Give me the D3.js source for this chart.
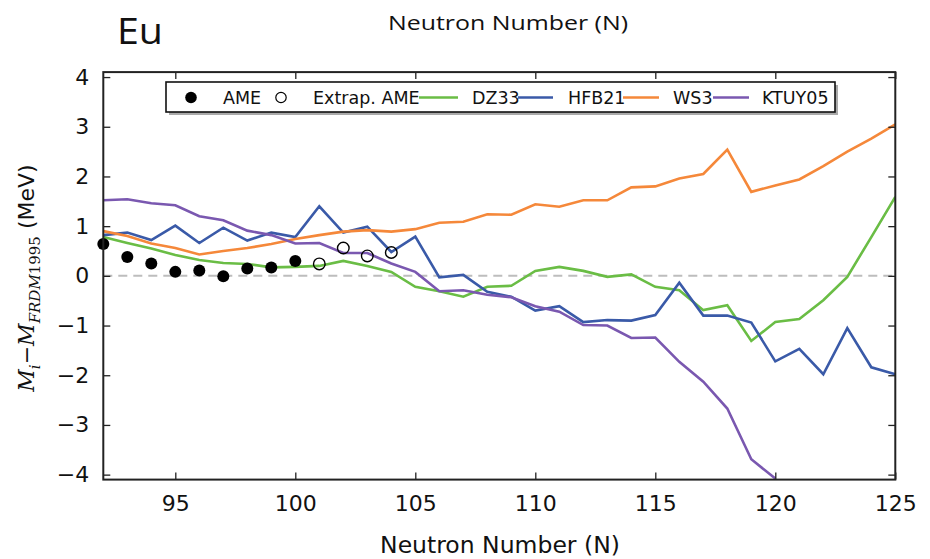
<!DOCTYPE html>
<html><head><meta charset="utf-8">
<script src="https://cdn.jsdelivr.net/npm/d3@7"></script>
<style>
html,body{margin:0;padding:0;background:#fff;}
svg{display:block;}
</style></head>
<body>
<svg id="chart" width="930" height="559"></svg>
<script>
const neutrons = d3.range(92, 126);
const ameN = [92, 93, 94, 95, 96, 97, 98, 99, 100];
const ameVals = [0.64, 0.38, 0.25, 0.08, 0.11, -0.01, 0.15, 0.17, 0.30];
const extrapN = [101, 102, 103, 104];
const extrapVals = [0.24, 0.56, 0.40, 0.47];
const dz33 = [0.78, 0.66, 0.55, 0.42, 0.32, 0.26, 0.24, 0.17, 0.18, 0.20, 0.30, 0.20, 0.08,
  -0.22, -0.31, -0.42, -0.22, -0.20, 0.10, 0.18, 0.10, -0.02, 0.03, -0.22, -0.29,
  -0.69, -0.59, -1.31, -0.93, -0.87, -0.49, -0.02, 0.78, 1.59];
const hfb21 = [0.82, 0.87, 0.72, 1.01, 0.66, 0.97, 0.71, 0.87, 0.78, 1.40, 0.87, 0.99, 0.48,
  0.79, -0.03, 0.02, -0.32, -0.42, -0.70, -0.61, -0.93, -0.89, -0.90, -0.79, -0.14,
  -0.80, -0.80, -0.94, -1.72, -1.47, -1.98, -1.05, -1.84, -1.98];
const ws3 = [0.90, 0.80, 0.65, 0.56, 0.43, 0.50, 0.56, 0.64, 0.74, 0.82, 0.89, 0.92, 0.89,
  0.94, 1.07, 1.09, 1.24, 1.23, 1.44, 1.39, 1.52, 1.52, 1.78, 1.80, 1.96,
  2.05, 2.54, 1.69, 1.82, 1.94, 2.21, 2.50, 2.76, 3.05];
const ktuyN = d3.range(92, 121);
const ktuy05 = [1.52, 1.54, 1.46, 1.42, 1.20, 1.12, 0.91, 0.82, 0.65, 0.66, 0.46, 0.46, 0.25,
  0.08, -0.31, -0.29, -0.38, -0.43, -0.61, -0.72, -0.99, -1.00, -1.25, -1.24, -1.73,
  -2.13, -2.67, -3.69, -4.08];
const xTicks = [95, 100, 105, 110, 115, 120, 125];
const yTicks = [-4, -3, -2, -1, 0, 1, 2, 3, 4];
const seriesNames = ["DZ33", "HFB21", "WS3", "KTUY05"];
const seriesColors = ["#6abd45", "#3a5aa8", "#f5883a", "#7a58b0"];

const svg = d3.select("#chart");
const L = 103.3, R = 895.3, T = 72.1, B = 479.6;
const x = d3.scaleLinear().domain([92, 125]).range([L, R]);
const y = d3.scaleLinear().domain([-4.1, 4.1]).range([B, T]);

svg.append("defs").append("clipPath").attr("id", "clip")
  .append("rect").attr("x", L).attr("y", T).attr("width", R - L).attr("height", B - T);

// zero line
svg.append("line").attr("x1", L).attr("x2", R).attr("y1", y(0)).attr("y2", y(0))
  .attr("stroke", "#bdbdbd").attr("stroke-width", 2).attr("stroke-dasharray", "9,6");

const line = d3.line().x(d => x(d[0])).y(d => y(d[1]));
const plot = svg.append("g").attr("clip-path", "url(#clip)");
const seriesData = [
  neutrons.map((n, i) => [n, dz33[i]]),
  neutrons.map((n, i) => [n, hfb21[i]]),
  neutrons.map((n, i) => [n, ws3[i]]),
  ktuyN.map((n, i) => [n, ktuy05[i]])
];
seriesData.forEach((d, i) => {
  plot.append("path").datum(d).attr("d", line).attr("fill", "none")
    .attr("stroke", seriesColors[i]).attr("stroke-width", 2.6).attr("stroke-linejoin", "miter");
});

// AME points
svg.append("g").selectAll("circle").data(ameN).join("circle")
  .attr("cx", d => x(d)).attr("cy", (d, i) => y(ameVals[i])).attr("r", 6).attr("fill", "#000");
svg.append("g").selectAll("circle").data(extrapN).join("circle")
  .attr("cx", d => x(d)).attr("cy", (d, i) => y(extrapVals[i])).attr("r", 5.8)
  .attr("fill", "none").attr("stroke", "#000").attr("stroke-width", 1.4);

// axes (ticks inward)
const tickFont = "DejaVu Sans, sans-serif";
const ax = svg.append("g").attr("transform", `translate(0,${B})`)
  .call(d3.axisBottom(x).tickValues(xTicks).tickSizeInner(-7).tickSizeOuter(0).tickPadding(16));
const axTop = svg.append("g").attr("transform", `translate(0,${T})`)
  .call(d3.axisTop(x).tickValues(xTicks).tickSizeInner(-7).tickSizeOuter(0).tickFormat(""));
const ay = svg.append("g").attr("transform", `translate(${L},0)`)
  .call(d3.axisLeft(y).tickValues(yTicks).tickSizeInner(-7).tickSizeOuter(0).tickPadding(14)
    .tickFormat(d => d < 0 ? "\u2212" + Math.abs(d) : String(d)));
const ayR = svg.append("g").attr("transform", `translate(${R},0)`)
  .call(d3.axisRight(y).tickValues(yTicks).tickSizeInner(-7).tickSizeOuter(0).tickFormat(""));
[ax, axTop, ay, ayR].forEach(g => {
  g.select(".domain").remove();
  g.selectAll(".tick line").attr("stroke", "#222").attr("stroke-width", 1.3);
  g.selectAll("text").attr("font-family", tickFont).attr("font-size", 22).attr("fill", "#111");
});
ax.selectAll("text").attr("dy", "0.71em");
// frame
svg.append("rect").attr("x", L).attr("y", T).attr("width", R - L).attr("height", B - T)
  .attr("fill", "none").attr("stroke", "#222").attr("stroke-width", 2);

// axis labels
svg.append("text").attr("x", 500).attr("y", 553).attr("text-anchor", "middle")
  .attr("font-family", tickFont).attr("font-size", 23.5).attr("fill", "#111").text("Neutron Number (N)");
svg.append("text").attr("x", 508).attr("y", 30).attr("text-anchor", "middle")
  .attr("font-family", "Open Sans, sans-serif").attr("font-size", 20).attr("fill", "#111")
  .attr("textLength", 240).attr("lengthAdjust", "spacingAndGlyphs").text("Neutron Number (N)");
svg.append("text").attr("x", 117).attr("y", 44)
  .attr("font-family", "Open Sans, sans-serif").attr("font-size", 36).attr("fill", "#111")
  .attr("textLength", 46).attr("lengthAdjust", "spacingAndGlyphs").text("Eu");

// y label
const yl = svg.append("text").attr("transform", "translate(34,278) rotate(-90)")
  .attr("text-anchor", "middle").attr("fill", "#111");
yl.append("tspan").attr("font-family", "DejaVu Serif, serif").attr("font-style", "italic").attr("font-size", 22).text("M");
yl.append("tspan").attr("font-family", "DejaVu Serif, serif").attr("font-style", "italic").attr("font-size", 15).attr("dy", 6).text("i");
yl.append("tspan").attr("font-family", "DejaVu Serif, serif").attr("font-size", 22).attr("dy", -6).text("\u2212");
yl.append("tspan").attr("font-family", "DejaVu Serif, serif").attr("font-style", "italic").attr("font-size", 22).text("M");
yl.append("tspan").attr("font-family", "DejaVu Serif, serif").attr("font-style", "italic").attr("font-size", 15).attr("dy", 6).text("FRDM");
yl.append("tspan").attr("font-family", "DejaVu Serif, serif").attr("font-size", 15).text("1995");
yl.append("tspan").attr("font-family", tickFont).attr("font-size", 22).attr("dy", -6).text("\u00a0(MeV)");

// legend
const lg = svg.append("g");
lg.append("rect").attr("x", 169).attr("y", 85).attr("width", 669).attr("height", 30).attr("fill", "#aaa");
lg.append("rect").attr("x", 166).attr("y", 82).attr("width", 669).attr("height", 30)
  .attr("fill", "#fff").attr("stroke", "#111").attr("stroke-width", 1.6);
const legY = 97.5;
const lf = "DejaVu Sans, sans-serif", ls = 17.5;
lg.append("circle").attr("cx", 191).attr("cy", legY).attr("r", 5.8).attr("fill", "#000");
lg.append("text").attr("x", 223).attr("y", legY + 6.3).attr("font-family", lf).attr("font-size", ls).attr("fill", "#111").text("AME");
lg.append("circle").attr("cx", 281).attr("cy", legY).attr("r", 5.2).attr("fill", "none").attr("stroke", "#000").attr("stroke-width", 1.2);
lg.append("text").attr("x", 313).attr("y", legY + 6.3).attr("font-family", lf).attr("font-size", ls).attr("fill", "#111").text("Extrap. AME");
const legLines = [[419, 458, 472], [518, 553, 568], [623, 659, 673], [713, 749, 762]];
legLines.forEach((p, i) => {
  lg.append("line").attr("x1", p[0]).attr("x2", p[1]).attr("y1", legY).attr("y2", legY)
    .attr("stroke", seriesColors[i]).attr("stroke-width", 2.6);
  lg.append("text").attr("x", p[2]).attr("y", legY + 6.3).attr("font-family", lf).attr("font-size", ls).attr("fill", "#111").text(seriesNames[i]);
});
</script>
</body></html>
